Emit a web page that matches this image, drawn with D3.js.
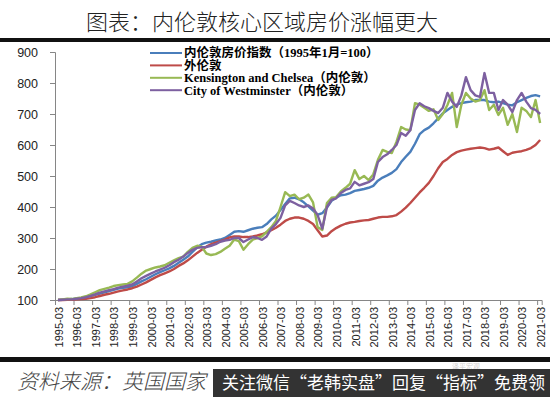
<!DOCTYPE html>
<html><head><meta charset="utf-8">
<script src="https://cdn.jsdelivr.net/npm/d3@7"></script>
<style>
html,body{margin:0;padding:0;background:#fff;}
svg{display:block;}
</style></head>
<body>
<svg id="chart" width="550" height="397"></svg>
<script>
// ---------- DATA ----------
const title = "图表：内伦敦核心区域房价涨幅更大";
const source = "资料来源：英国国家";
const overlayText = "关注微信“老韩实盘”回复“指标”免费领";
const watermark = "泽平宏观";

const seriesNames = ["内伦敦房价指数（1995年1月=100）", "外伦敦", "Kensington and Chelsea（内伦敦）", "City of Westminster（内伦敦）"];
const seriesColors = ["#4A7EBB", "#BE4B48", "#98B954", "#7D60A0"];

const years = d3.range(1995, 2022);
const months = ["03", "06", "09", "12"];
const dates = [];
years.forEach(y => months.forEach(m => { if (!(y === 2021 && m !== "03")) dates.push(y + "-" + m); }));

const yTicks = [100, 200, 300, 400, 500, 600, 700, 800, 900];
const xTickLabels = years.map(y => y + "-03");

const innerLondon = [
  100,101,102,103, 105,107,110,113, 117,121,125,129, 133,137,139,141,
  145,152,160,167, 175,183,190,196, 202,210,220,230, 240,255,270,280,
  285,288,292,295, 300,310,320,322, 320,325,330,333, 335,345,360,372,
  390,410,428,430, 425,415,402,388, 375,380,398,420, 430,438,440,445,
  452,455,458,462, 468,485,495,502, 510,522,545,562, 578,604,635,648,
  656,670,686,702, 713,723,730,735, 738,740,745,745, 745,740,738,740,
  735,730,728,738, 745,752,758,761, 757];

const outerLondon = [
  100,100,101,101, 102,103,104,106, 109,113,117,120, 124,128,131,134,
  138,143,150,157, 165,173,180,186, 192,200,210,218, 228,240,252,262,
  272,280,285,290, 295,302,305,305, 303,303,305,308, 312,318,325,333,
  343,355,362,366, 366,362,355,345, 325,305,308,322, 332,340,346,350,
  352,355,357,358, 362,366,368,368, 370,374,385,398, 413,430,447,462,
  478,500,525,545, 555,568,577,582, 585,588,590,592, 590,585,588,592,
  580,568,575,578, 580,584,590,600, 616];

const kensington = [
  100,102,104,103, 106,108,112,118, 125,132,136,140, 145,148,150,152,
  160,172,185,195, 200,205,208,212, 220,228,235,240, 255,268,275,272,
  250,245,248,255, 265,275,295,290, 262,280,295,300, 305,320,335,355,
  400,448,435,440, 425,430,440,415, 335,326,413,430, 432,450,462,475,
  519,490,500,487, 505,552,584,578, 574,610,658,650, 648,735,730,720,
  710,715,681,700, 729,768,658,730, 768,750,740,745, 777,713,730,697,
  720,665,700,642, 720,710,690,745, 671];

const westminster = [
  100,101,102,102, 104,106,109,113, 118,124,128,132, 135,140,143,146,
  150,160,170,178, 185,192,198,204, 212,222,230,240, 252,262,268,270,
  271,275,280,288, 292,294,300,300, 287,295,303,300, 294,305,330,345,
  365,405,420,413, 405,400,405,395, 374,330,400,423, 428,445,455,460,
  481,470,475,480, 490,545,561,570, 584,600,639,630, 648,713,735,725,
  719,710,703,720, 768,740,723,760, 819,777,760,755, 832,768,768,713,
  745,730,706,745, 768,740,719,713, 700];

const seriesValues = [innerLondon, outerLondon, kensington, westminster];

// ---------- CHART ----------
const svg = d3.select("#chart");
const W = 550, H = 397;
const parse = d3.timeParse("%Y-%m");
const plot = {left: 55, right: 541.7, top: 52, bottom: 300};

const x = d3.scaleTime()
  .domain([new Date(1995, 0, 1), new Date(2021, 3, 1)])
  .range([plot.left, plot.right]);
const y = d3.scaleLinear().domain([100, 900]).range([plot.bottom, plot.top]);

// Title
svg.append("text")
  .attr("x", 262).attr("y", 30)
  .attr("text-anchor", "middle")
  .style("font-family", "'Noto Sans CJK SC', sans-serif")
  .style("font-weight", 300)
  .style("font-size", "22px")
  .style("fill", "#222")
  .text(title);

// thick rules
svg.append("rect").attr("x", 0).attr("y", 38).attr("width", W).attr("height", 4).attr("fill", "#111");
svg.append("rect").attr("x", 0).attr("y", 357).attr("width", W).attr("height", 5).attr("fill", "#111");

// Y axis
const yAxis = d3.axisLeft(y).tickValues(yTicks).tickSize(5).tickPadding(12);
const gy = svg.append("g").attr("transform", `translate(${plot.left},0)`).call(yAxis);
gy.select(".domain").attr("stroke", "#868686");
gy.selectAll(".tick line").attr("stroke", "#868686");
gy.selectAll(".tick text")
  .style("font-family", "'Liberation Sans', Arial, sans-serif")
  .style("font-size", "12.5px")
  .style("fill", "#222");

// X axis (ticks at year boundaries)
const tickDates = years.map(yy => new Date(yy, 0, 1));
const xAxis = d3.axisBottom(x).tickValues(tickDates).tickSize(5).tickFormat("");
const gx = svg.append("g").attr("transform", `translate(0,${plot.bottom})`).call(xAxis);
gx.select(".domain").attr("stroke", "#868686");
gx.selectAll(".tick line").attr("stroke", "#868686");

// X labels (March of each year)
svg.append("g").selectAll("text")
  .data(xTickLabels)
  .join("text")
  .attr("transform", d => `translate(${x(parse(d)) + 1},307) rotate(-90)`)
  .attr("text-anchor", "end")
  .attr("dy", "0.35em")
  .style("font-family", "'Liberation Sans Narrow', 'Liberation Sans', Arial, sans-serif")
  .style("font-size", "11px")
  .style("fill", "#222")
  .text(d => d);

// Lines
const line = d3.line()
  .x((d, i) => x(parse(dates[i])))
  .y(d => y(d));

svg.append("g").selectAll("path")
  .data(seriesValues)
  .join("path")
  .attr("d", d => line(d))
  .attr("fill", "none")
  .attr("stroke", (d, i) => seriesColors[i])
  .attr("stroke-width", 2.4)
  .attr("stroke-linejoin", "round");

// Legend
const lg = svg.append("g");
seriesNames.forEach((name, i) => {
  const cy = 53 + i * 12.4;
  lg.append("line")
    .attr("x1", 150).attr("x2", 182)
    .attr("y1", cy).attr("y2", cy)
    .attr("stroke", seriesColors[i]).attr("stroke-width", 2);
  lg.append("text")
    .attr("x", 184).attr("y", cy + 4.3)
    .style("font-family", "'Liberation Serif', 'Times New Roman', 'Noto Sans CJK SC', serif")
    .style("font-weight", "bold")
    .style("font-size", "12.5px")
    .style("fill", "#000")
    .text(name);
});

// Footer source
svg.append("text")
  .attr("x", 17).attr("y", 389)
  .style("font-family", "'Noto Sans CJK SC', sans-serif")
  .style("font-style", "italic")
  .style("font-weight", 300)
  .style("font-size", "21px")
  .style("fill", "#444")
  .text(source);

// faint watermark above the overlay box
svg.append("text")
  .attr("x", 452).attr("y", 368.5)
  .style("font-family", "'Noto Sans CJK SC', sans-serif")
  .style("font-size", "7px")
  .style("fill", "#cfcfcf")
  .text(watermark);

// overlay box
svg.append("rect").attr("x", 213).attr("y", 369).attr("width", W - 213).attr("height", H - 369).attr("fill", "#333");
svg.append("text")
  .attr("x", 222).attr("y", 389)
  .style("font-family", "'Noto Sans CJK SC', sans-serif")
  .style("font-size", "17px")
  .style("fill", "#fff")
  .text(overlayText);
</script>
</body></html>
